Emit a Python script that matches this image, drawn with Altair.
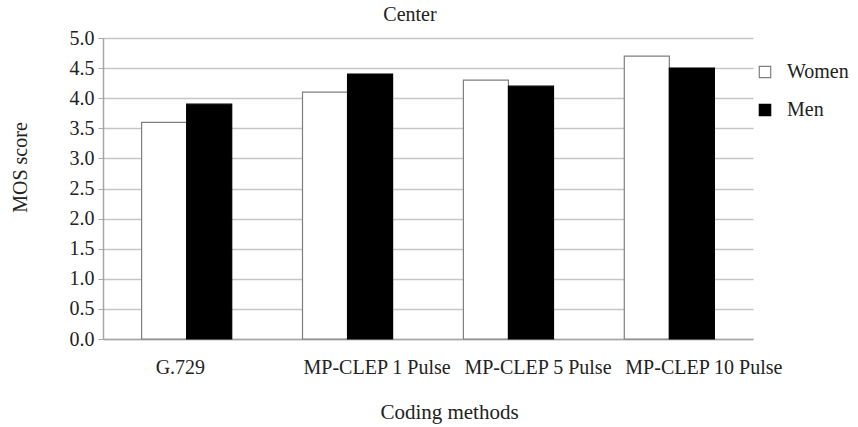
import altair as alt
import pandas as pd

# MOS scores per coding method, split by speaker gender
methods = ["G.729", "MP-CLEP 1 Pulse", "MP-CLEP 5 Pulse", "MP-CLEP 10 Pulse"]
women = [3.6, 4.1, 4.3, 4.7]
men = [3.9, 4.4, 4.2, 4.5]
genders = ["Women", "Men"]
y_ticks = [0.0, 0.5, 1.0, 1.5, 2.0, 2.5, 3.0, 3.5, 4.0, 4.5, 5.0]

rows = []
for m, w, mn in zip(methods, women, men):
    rows.append({"Method": m, "Gender": "Women", "Score": w})
    rows.append({"Method": m, "Gender": "Men", "Score": mn})
df = pd.DataFrame(rows)

FONT = "Liberation Serif"
TEXT = "#222222"

bars = alt.Chart(df).mark_bar(strokeWidth=1.2).encode(
    x=alt.X(
        "Method:N",
        sort=methods,
        scale=alt.Scale(paddingInner=0.44, paddingOuter=0.24),
        axis=alt.Axis(
            title="Coding methods",
            labelAngle=0,
            labelAlign="left",
            labelOffset={"condition": {"test": "datum.value == 'G.729'", "value": -31}, "value": -44},
            labelPadding=18,
            labelFontSize=20,
            ticks=False,
            grid=False,
            domainColor="#a6a6a6",
            domainWidth=1.5,
            titleFontSize=21,
            titleFontWeight="normal",
            titleX=346,
            titleY=79,
            titleBaseline="alphabetic",
        ),
    ),
    xOffset=alt.XOffset("Gender:N", sort=genders),
    y=alt.Y(
        "Score:Q",
        scale=alt.Scale(domain=[0, 5], nice=False),
        axis=alt.Axis(
            title="MOS score",
            values=y_ticks,
            format=".1f",
            labelFontSize=20,
            labelPadding=4,
            tickSize=5,
            tickColor="#a6a6a6",
            domainColor="#a6a6a6",
            domainWidth=1.5,
            gridColor="#c6c6c6",
            gridWidth=1.5,
            titleFontSize=20,
            titleFontWeight="normal",
            titleX=-83,
            titleY=129,
            titleAngle=270,
            titleAlign="center",
            titleBaseline="middle",
        ),
    ),
    fill=alt.Fill(
        "Gender:N",
        sort=genders,
        scale=alt.Scale(domain=genders, range=["#ffffff", "#000000"]),
        legend=alt.Legend(
            title=None,
            orient="none",
            legendX=652,
            legendY=24,
            symbolType="square",
            symbolSize=130,
            symbolStrokeWidth=1.2,
            labelFontSize=20,
            labelOffset=12,
            rowPadding=18,
        ),
    ),
    stroke=alt.Stroke(
        "Gender:N",
        sort=genders,
        scale=alt.Scale(domain=genders, range=["#7f7f7f", "#000000"]),
        legend=None,
    ),
)

chart = bars.properties(
    width=650,
    height=301,
    title=alt.TitleParams(
        "Center", fontSize=20, fontWeight="normal", font=FONT, color=TEXT,
        offset=3, dx=-18,
    ),
    autosize=alt.AutoSizeParams(type="none"),
    padding={"left": 103, "top": 38, "right": 105, "bottom": 88},
).configure(
    font=FONT,
    background="white",
).configure_axis(
    labelFont=FONT,
    titleFont=FONT,
    labelColor=TEXT,
    titleColor=TEXT,
).configure_legend(
    labelFont=FONT,
    labelColor=TEXT,
).configure_view(
    stroke=None,
)

chart.save("out.html", embed_options={"renderer": "svg", "actions": False})
